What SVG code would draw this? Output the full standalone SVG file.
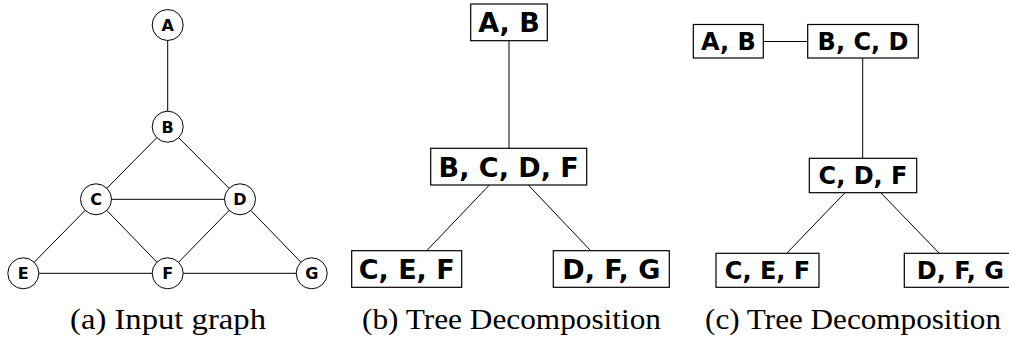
<svg xmlns="http://www.w3.org/2000/svg" width="1009" height="340" viewBox="0 0 1009 340">
<style>
.edge{stroke:#000;stroke-width:1;fill:none}
.circ{fill:#fff;stroke:#000;stroke-width:1}
.box{fill:#fff;stroke:#000;stroke-width:1.2}
.lbl{font-family:"DejaVu Sans",sans-serif;font-weight:bold;fill:#000;text-anchor:middle}
.s{font-size:16px}
.m{font-size:27px}
.c{font-size:24px}
.cap{font-family:"Liberation Serif","Times New Roman",serif;font-size:30px;fill:#000;text-anchor:middle}
</style>
<rect width="1009" height="340" fill="#fff"/>
<g id="connectors">
<line class="edge" x1="167.7" y1="25" x2="167.7" y2="126.7"/>
<line class="edge" x1="167.7" y1="126.7" x2="96" y2="199.3"/>
<line class="edge" x1="167.7" y1="126.7" x2="240" y2="199.3"/>
<line class="edge" x1="96" y1="199.3" x2="240" y2="199.3"/>
<line class="edge" x1="96" y1="199.3" x2="23.3" y2="273.3"/>
<line class="edge" x1="96" y1="199.3" x2="167.7" y2="273.3"/>
<line class="edge" x1="240" y1="199.3" x2="167.7" y2="273.3"/>
<line class="edge" x1="240" y1="199.3" x2="311.7" y2="273.3"/>
<line class="edge" x1="23.3" y1="273.3" x2="167.7" y2="273.3"/>
<line class="edge" x1="167.7" y1="273.3" x2="311.7" y2="273.3"/>
<line class="edge" x1="509" y1="40.7" x2="509" y2="148.3"/>
<line class="edge" x1="489.3" y1="185" x2="426.7" y2="250.7"/>
<line class="edge" x1="528.3" y1="185" x2="590.7" y2="250.7"/>
<line class="edge" x1="763.3" y1="41.5" x2="807.7" y2="41.5"/>
<line class="edge" x1="862.7" y1="58" x2="862.7" y2="158.3"/>
<line class="edge" x1="845" y1="192.7" x2="786.7" y2="253.3"/>
<line class="edge" x1="880.7" y1="192.7" x2="939.3" y2="253.3"/>
</g>
<g id="nA"><circle class="circ" cx="167.7" cy="25" r="15.5"/><text class="lbl s" x="167.7" y="30.8">A</text></g>
<g id="nB"><circle class="circ" cx="167.7" cy="126.7" r="15.5"/><text class="lbl s" x="167.7" y="132.5">B</text></g>
<g id="nC"><circle class="circ" cx="96" cy="199.3" r="15.5"/><text class="lbl s" x="96" y="205.1">C</text></g>
<g id="nD"><circle class="circ" cx="240" cy="199.3" r="15.5"/><text class="lbl s" x="240" y="205.1">D</text></g>
<g id="nE"><circle class="circ" cx="23.3" cy="273.3" r="15.5"/><text class="lbl s" x="23.3" y="279.1">E</text></g>
<g id="nF"><circle class="circ" cx="167.7" cy="273.3" r="15.5"/><text class="lbl s" x="167.7" y="279.1">F</text></g>
<g id="nG"><circle class="circ" cx="311.7" cy="273.3" r="15.5"/><text class="lbl s" x="311.7" y="279.1">G</text></g>
<g id="b_AB"><rect class="box" x="470.7" y="4" width="76.6" height="36.7"/><text class="lbl m" x="509" y="32.2">A, B</text></g>
<g id="b_BCDF"><rect class="box" x="430.7" y="148.3" width="156" height="36.7"/><text class="lbl m" x="508.7" y="176.5">B, C, D, F</text></g>
<g id="b_CEF"><rect class="box" x="351.7" y="250.7" width="110" height="36.6"/><text class="lbl m" x="406.7" y="278.8">C, E, F</text></g>
<g id="b_DFG"><rect class="box" x="553.3" y="250.7" width="116" height="36.6"/><text class="lbl m" x="611.3" y="278.8">D, F, G</text></g>
<g id="c_AB"><rect class="box" x="693.3" y="24.5" width="70" height="33.5"/><text class="lbl c" x="728.3" y="50">A, B</text></g>
<g id="c_BCD"><rect class="box" x="807.7" y="24.5" width="110.6" height="33.5"/><text class="lbl c" x="863" y="50">B, C, D</text></g>
<g id="c_CDF"><rect class="box" x="809.3" y="158.3" width="107.4" height="34.4"/><text class="lbl c" x="863" y="184.3">C, D, F</text></g>
<g id="c_CEF"><rect class="box" x="716" y="253.3" width="103" height="34"/><text class="lbl c" x="767.5" y="279">C, E, F</text></g>
<g id="c_DFG"><rect class="box" x="904.3" y="253.3" width="112" height="34"/><text class="lbl c" x="960.3" y="279">D, F, G</text></g>
<g id="captions">
<text class="cap" x="168" y="329" textLength="196" lengthAdjust="spacingAndGlyphs">(a) Input graph</text>
<text class="cap" x="511.5" y="329" textLength="299" lengthAdjust="spacingAndGlyphs">(b) Tree Decomposition</text>
<text class="cap" x="853" y="329" textLength="296" lengthAdjust="spacingAndGlyphs">(c) Tree Decomposition</text>
</g>
</svg>
